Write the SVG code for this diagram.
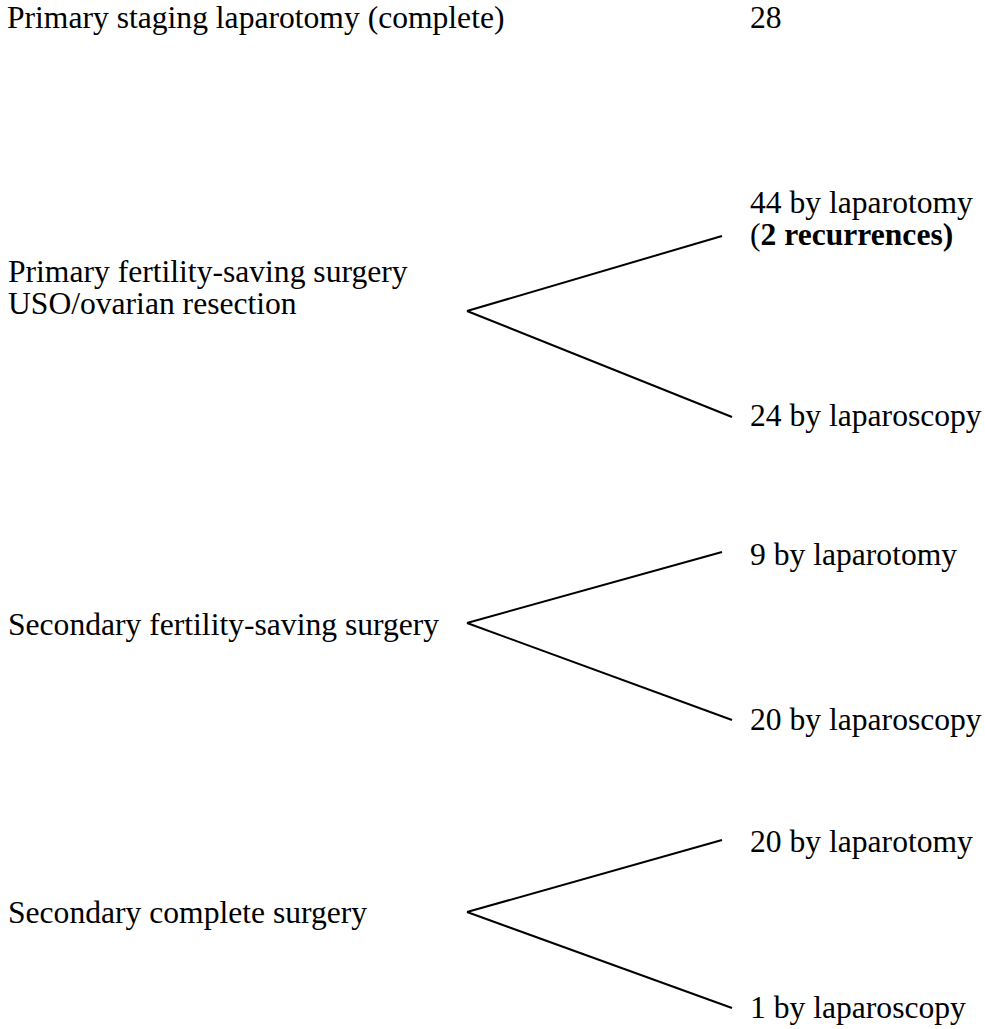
<svg xmlns="http://www.w3.org/2000/svg" width="985" height="1029" viewBox="0 0 985 1029">
<style>
text{font-family:"Liberation Serif","Times New Roman",serif;font-size:31.6px;fill:#000}
.b{font-weight:bold}
.c line{stroke:#000;stroke-width:2;fill:none}
</style>
<rect width="985" height="1029" fill="#fff"/>
<g id="n-staging"><text x="7" y="28">Primary staging laparotomy (complete)</text></g>
<g id="n-staging-count"><text x="750" y="28">28</text></g>
<g id="n-primary-fs"><text x="8" y="282">Primary fertility-saving surgery</text><text x="8" y="314">USO/ovarian resection</text></g>
<g id="n-pfs-lapt"><text x="750" y="213">44 by laparotomy</text><text x="750" y="245">(<tspan class="b">2 recurrences)</tspan></text></g>
<g id="n-pfs-lapsc"><text x="750" y="426">24 by laparoscopy</text></g>
<g id="n-secondary-fs"><text x="8" y="635">Secondary fertility-saving surgery</text></g>
<g id="n-sfs-lapt"><text x="750" y="565">9 by laparotomy</text></g>
<g id="n-sfs-lapsc"><text x="750" y="730">20 by laparoscopy</text></g>
<g id="n-secondary-c"><text x="8" y="923">Secondary complete surgery</text></g>
<g id="n-sc-lapt"><text x="750" y="852">20 by laparotomy</text></g>
<g id="n-sc-lapsc"><text x="750" y="1018">1 by laparoscopy</text></g>
<g id="connectors" class="c">
<line x1="467" y1="311" x2="722" y2="236"/>
<line x1="467" y1="311" x2="732" y2="417"/>
<line x1="467" y1="623" x2="722" y2="552"/>
<line x1="467" y1="623" x2="732" y2="720"/>
<line x1="467" y1="912" x2="722" y2="840"/>
<line x1="467" y1="912" x2="732" y2="1008"/>
</g>
</svg>
